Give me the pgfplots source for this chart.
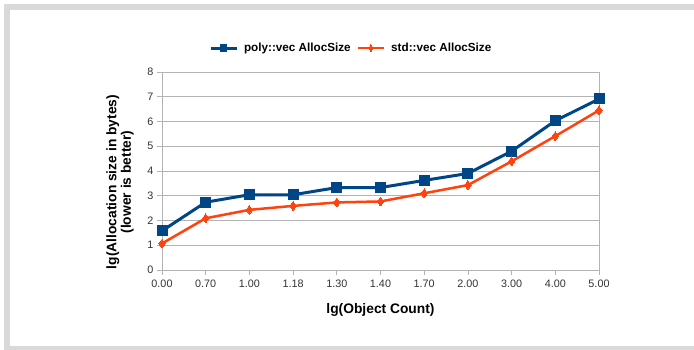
\documentclass[border=0pt]{standalone}
\usepackage{pgfplots}
\pgfplotsset{compat=1.18}
\usepackage{fontspec}
\setmainfont{Liberation Sans}
\definecolor{polyblue}{HTML}{004586}
\definecolor{stdorange}{HTML}{FF420E}
\definecolor{gridgray}{HTML}{B3B3B3}
\definecolor{framegray}{HTML}{D9D9D9}
\definecolor{ticktext}{HTML}{333333}
\begin{document}
\begin{tikzpicture}[x=1pt,y=1pt]
\useasboundingbox (0,0) rectangle (694,350);
\fill[white] (0,0) rectangle (694,350);
\fill[framegray] (4,0) rectangle (10,346);
\fill[framegray] (4,340) rectangle (694,346);
\fill[framegray] (4,0) rectangle (694,4);
\begin{axis}[
  at={(162pt,80pt)}, anchor=south west,
  scale only axis, width=437pt, height=198pt,
  xmin=0, xmax=10, ymin=0, ymax=8,
  xtick={0,1,2,3,4,5,6,7,8,9,10},
  xticklabels={0.00,0.70,1.00,1.18,1.30,1.40,1.70,2.00,3.00,4.00,5.00},
  ytick={0,1,2,3,4,5,6,7,8},
  ymajorgrids, grid style={gridgray, line width=0.8pt},
  axis line style={gridgray, line width=0.8pt},
  tick style={gridgray, line width=0.8pt},
  tick align=outside, major tick length=5pt,
  xtick pos=bottom, ytick pos=left,
  tick label style={font=\fontsize{10.8}{13}\selectfont, text=ticktext},
  xticklabel style={yshift=-1pt},
  /pgf/number format/assume math mode=true,
  xlabel={\textbf{lg(Object Count)}},
  xlabel style={font=\fontsize{13.8}{15}\selectfont, at={(axis description cs:0.5,-0.202)}, anchor=center},
  ylabel={\textbf{lg(Allocation size in bytes)}\\\textbf{(lower is better)}},
  ylabel style={font=\fontsize{13.8}{14.5}\selectfont, align=center, at={(axis description cs:-0.096,0.444)}, anchor=center},
  legend columns=2,
  legend style={draw=none, fill=none, at={(axis description cs:0.433,1.121)}, anchor=center,
    font=\fontsize{11.7}{13}\selectfont\bfseries, column sep=4pt},
  legend image code/.code={
    \draw[mark repeat=2, mark phase=2, #1, mark size=3.2pt] plot coordinates {(0pt,0pt) (13pt,0pt) (26pt,0pt)};
  },
]
\addplot[polyblue, line width=3pt, mark=square*, mark size=5pt, mark options={solid, fill=polyblue, line width=0pt}]
  coordinates {(0,1.58) (1,2.74) (2,3.04) (3,3.04) (4,3.33) (5,3.33) (6,3.62) (7,3.90) (8,4.80) (9,6.03) (10,6.91)};
\addlegendentry{poly::vec AllocSize}
\addplot[stdorange, line width=2.5pt, mark=diamond*, mark size=4.4pt, mark options={solid, fill=stdorange, line width=0pt}]
  coordinates {(0,1.07) (1,2.09) (2,2.43) (3,2.59) (4,2.73) (5,2.77) (6,3.10) (7,3.43) (8,4.39) (9,5.41) (10,6.45)};
\addlegendentry{std::vec AllocSize}
\end{axis}
\end{tikzpicture}
\end{document}
